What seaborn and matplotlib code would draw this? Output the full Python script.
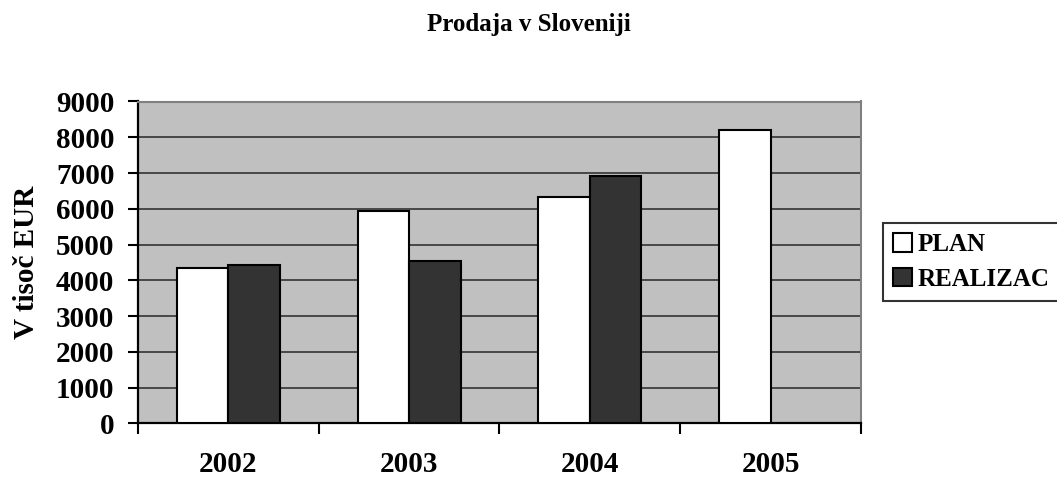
import pandas as pd
import numpy as np
import matplotlib
matplotlib.use("Agg")
import matplotlib.pyplot as plt
import seaborn as sns

# Data
years = ["2002", "2003", "2004", "2005"]
plan = [4350, 5950, 6340, 8190]
realizac = [4440, 4540, 6930, np.nan]
series = ["PLAN", "REALIZAC"]
y_ticks = [0, 1000, 2000, 3000, 4000, 5000, 6000, 7000, 8000, 9000]

df = pd.DataFrame({
    "leto": years * 2,
    "vrednost": plan + realizac,
    "serija": [series[0]] * len(years) + [series[1]] * len(years),
})

sns.set_theme(style="ticks")
plt.rcParams["font.family"] = ["Liberation Serif", "DejaVu Serif"]
plt.rcParams["font.weight"] = "bold"
for k in ["text.color", "axes.labelcolor", "xtick.color", "ytick.color"]:
    plt.rcParams[k] = "black"

fig = plt.figure(figsize=(10.57, 4.79), dpi=100)
ax = fig.add_axes([138 / 1057, 1 - 423.3 / 479, (861 - 138) / 1057, (423.3 - 101.5) / 479])
ax.set_facecolor("#C0C0C0")

sns.barplot(data=df, x="leto", y="vrednost", hue="serija", order=years,
            hue_order=series, palette=["#FFFFFF", "#333333"], width=0.57,
            edgecolor="black", linewidth=1.5, saturation=1, ax=ax, zorder=3)

ax.set_ylim(0, 9000)
ax.set_xlim(-0.5, 3.5)
ax.set_yticks(y_ticks)
ax.set_yticklabels([str(v) for v in y_ticks], fontsize=21, fontweight="bold")
ax.yaxis.grid(True, color="#333333", linewidth=1.2, zorder=0)
ax.set_axisbelow(True)

# category labels centred, tick marks between the categories
ax.set_xticks(range(len(years)))
ax.set_xticklabels(years, fontsize=21, fontweight="bold")
ax.tick_params(axis="x", which="major", length=0, pad=20)
ax.set_xticks(np.arange(-0.5, len(years), 1.0), minor=True)
ax.tick_params(axis="x", which="minor", length=8, width=1.5, color="black", direction="out")
ax.tick_params(axis="y", length=7, width=1.5, color="black", direction="out", pad=10)

ax.set_xlabel("")
ax.set_ylabel("V tisoč EUR", fontsize=21, fontweight="bold")
ax.yaxis.set_label_coords(-0.135, 0.5)

for s in ["left", "bottom"]:
    ax.spines[s].set_color("black")
    ax.spines[s].set_linewidth(1.6)
for s in ["top", "right"]:
    ax.spines[s].set_visible(True)
    ax.spines[s].set_color("#808080")
    ax.spines[s].set_linewidth(1.5)

fig.text(0.5, 1 - 24 / 479, "Prodaja v Sloveniji", ha="center", va="center",
         fontsize=18, fontweight="bold")

handles, labels = ax.get_legend_handles_labels()
ax.get_legend().remove()
leg = fig.legend(handles, labels, loc="center left",
                 bbox_to_anchor=(883 / 1057, 1 - 262 / 479),
                 prop={"size": 18, "weight": "bold"}, frameon=True, fancybox=False,
                 handlelength=0.75, handleheight=0.75, handletextpad=0.25,
                 borderpad=0.4, labelspacing=0.45, borderaxespad=0)
leg.get_frame().set_edgecolor("black")
leg.get_frame().set_linewidth(1.5)
leg.get_frame().set_facecolor("white")

fig.savefig("out.png", dpi=100, facecolor="white")
